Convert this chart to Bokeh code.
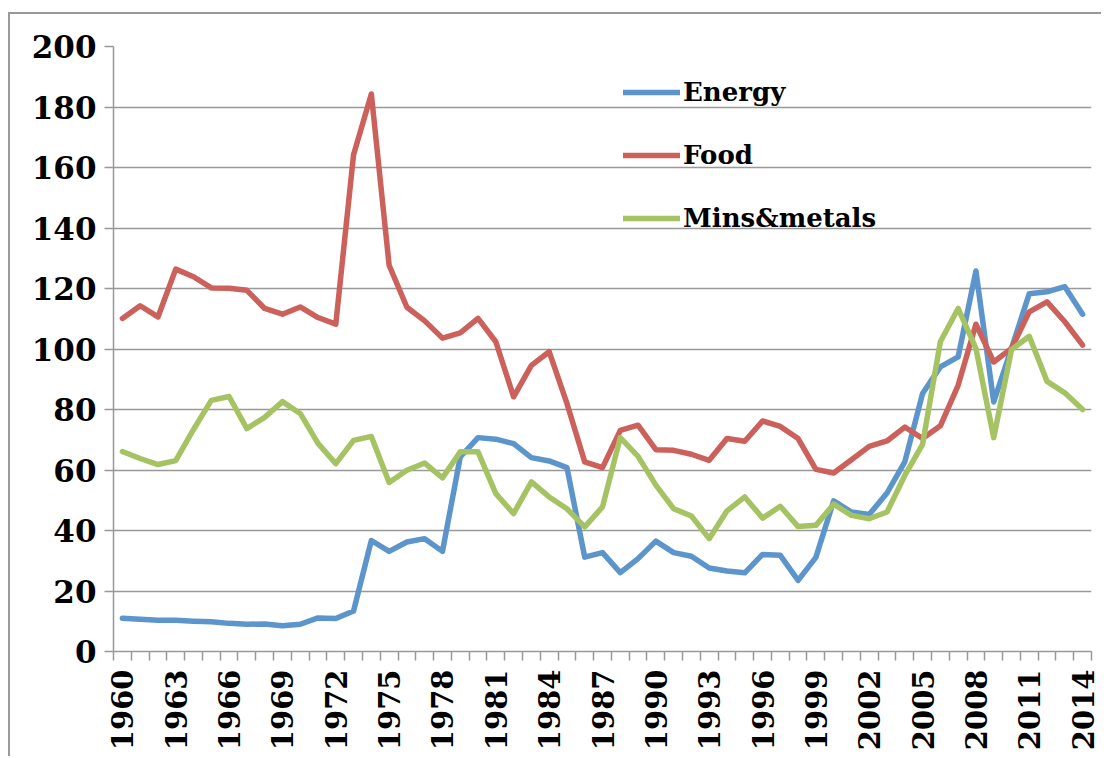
import math
from bokeh.plotting import figure
from bokeh.models import FixedTicker, Legend, LegendItem, Range1d
from bokeh.embed import file_html
from bokeh.resources import INLINE

years = list(range(1960, 2015))
energy = [11.0, 10.7, 10.3, 10.3, 10.0, 9.8, 9.3, 9.0, 9.1, 8.5,
          9.0, 11.1, 10.9, 13.4, 36.7, 33.1, 36.2, 37.3, 33.1, 64.3,
          70.7, 70.2, 68.7, 64.1, 63.0, 60.8, 31.2, 32.7, 26.1, 30.7,
          36.5, 32.7, 31.5, 27.6, 26.6, 26.0, 32.1, 31.8, 23.5, 31.1,
          49.8, 46.1, 45.3, 52.4, 62.7, 85.3, 94.1, 97.4, 125.8, 82.5,
          100.2, 118.3, 118.9, 120.6, 111.5]
food = [110.1, 114.3, 110.6, 126.4, 123.9, 120.2, 120.1, 119.4, 113.4, 111.5,
        113.9, 110.4, 108.2, 164.2, 184.3, 127.7, 113.8, 109.3, 103.6, 105.3,
        110.1, 102.4, 84.2, 94.6, 99.1, 82.0, 62.7, 60.8, 73.1, 74.8,
        66.7, 66.5, 65.2, 63.2, 70.4, 69.5, 76.2, 74.4, 70.4, 60.2,
        59.0, 63.4, 67.8, 69.6, 74.2, 70.4, 74.6, 88.0, 108.2, 95.7,
        100.2, 112.3, 115.6, 109.0, 101.3]
mins_metals = [66.1, 63.8, 61.8, 63.1, 73.4, 83.0, 84.3, 73.7, 77.4, 82.6,
               78.7, 68.8, 62.1, 69.8, 71.1, 55.9, 59.9, 62.3, 57.4, 66.0,
               66.0, 52.2, 45.6, 56.1, 51.1, 47.2, 41.2, 47.8, 70.7, 64.5,
               55.0, 47.2, 44.8, 37.3, 46.5, 51.1, 44.1, 48.0, 41.3, 41.7,
               48.7, 45.0, 43.9, 46.1, 58.2, 68.5, 102.4, 113.4, 100.2, 70.7,
               99.8, 104.2, 89.3, 85.5, 80.0]
series_names = ["Energy", "Food", "Mins&metals"]
series_colors = ["#5b95cc", "#cc605a", "#a5c363"]
y_ticks = list(range(0, 201, 20))
x_label_years = list(range(1960, 2015, 3))

GRID = "#999999"
FONT = "DejaVu Serif"

W, H = 1101, 756
p = figure(width=W, height=H, output_backend="svg", toolbar_location=None,
           x_range=Range1d(1959.5, 2014.5), y_range=Range1d(0, 200),
           min_border_left=113, min_border_right=10,
           min_border_top=46, min_border_bottom=105)
p.outline_line_color = None
p.background_fill_color = "white"
p.border_fill_color = None
# outer chart-area border: left and top edges, the rest runs off the page
p.styles = {
    "background-color": "white",
    "background-image": f"linear-gradient({GRID}, {GRID}), linear-gradient({GRID}, {GRID})",
    "background-size": "2px 100%, 100% 2px",
    "background-position": "8px 12px, 8px 12px",
    "background-repeat": "no-repeat",
}

renderers = []
for name, vals, col in zip(series_names, [energy, food, mins_metals], series_colors):
    r = p.line(years, vals, line_color=col, line_width=5.5,
               line_join="round", line_cap="round")
    renderers.append((name, r))

# x axis
p.xaxis.ticker = FixedTicker(ticks=x_label_years,
                             minor_ticks=[y - 0.5 for y in years] + [years[-1] + 0.5])
p.xaxis.major_tick_line_color = None
p.xaxis.major_tick_out = 9
p.xaxis.major_tick_in = 0
p.xaxis.minor_tick_out = 9
p.xaxis.minor_tick_in = 0
p.xaxis.minor_tick_line_color = GRID
p.xaxis.minor_tick_line_width = 1.5
p.xaxis.major_label_orientation = math.pi / 2
p.xaxis.major_label_standoff = 9
p.xaxis.major_label_text_font_size = "29px"
p.xgrid.grid_line_color = None

# y axis
p.yaxis.ticker = FixedTicker(ticks=y_ticks)
p.yaxis.minor_tick_line_color = None
p.yaxis.major_tick_out = 9
p.yaxis.major_tick_in = 0
p.yaxis.major_tick_line_color = GRID
p.yaxis.major_tick_line_width = 1.5
p.yaxis.major_label_standoff = 8
p.yaxis.major_label_text_font_size = "31px"
p.ygrid.grid_line_color = GRID
p.ygrid.grid_line_width = 1.5

for ax in (p.xaxis, p.yaxis):
    ax.axis_line_color = GRID
    ax.axis_line_width = 1.5
    ax.major_label_text_font = FONT
    ax.major_label_text_font_style = "bold"
    ax.major_label_text_color = "black"

legend = Legend(items=[LegendItem(label=n, renderers=[r]) for n, r in renderers],
                location=(510, 413), orientation="vertical",
                glyph_width=57, glyph_height=40, label_height=40,
                label_standoff=3, spacing=23, padding=0, margin=0,
                border_line_color=None, background_fill_alpha=0,
                label_text_font=FONT, label_text_font_style="bold",
                label_text_font_size="26px", label_text_color="black")
p.add_layout(legend)

open("out.html", "w").write(file_html(p, INLINE))
